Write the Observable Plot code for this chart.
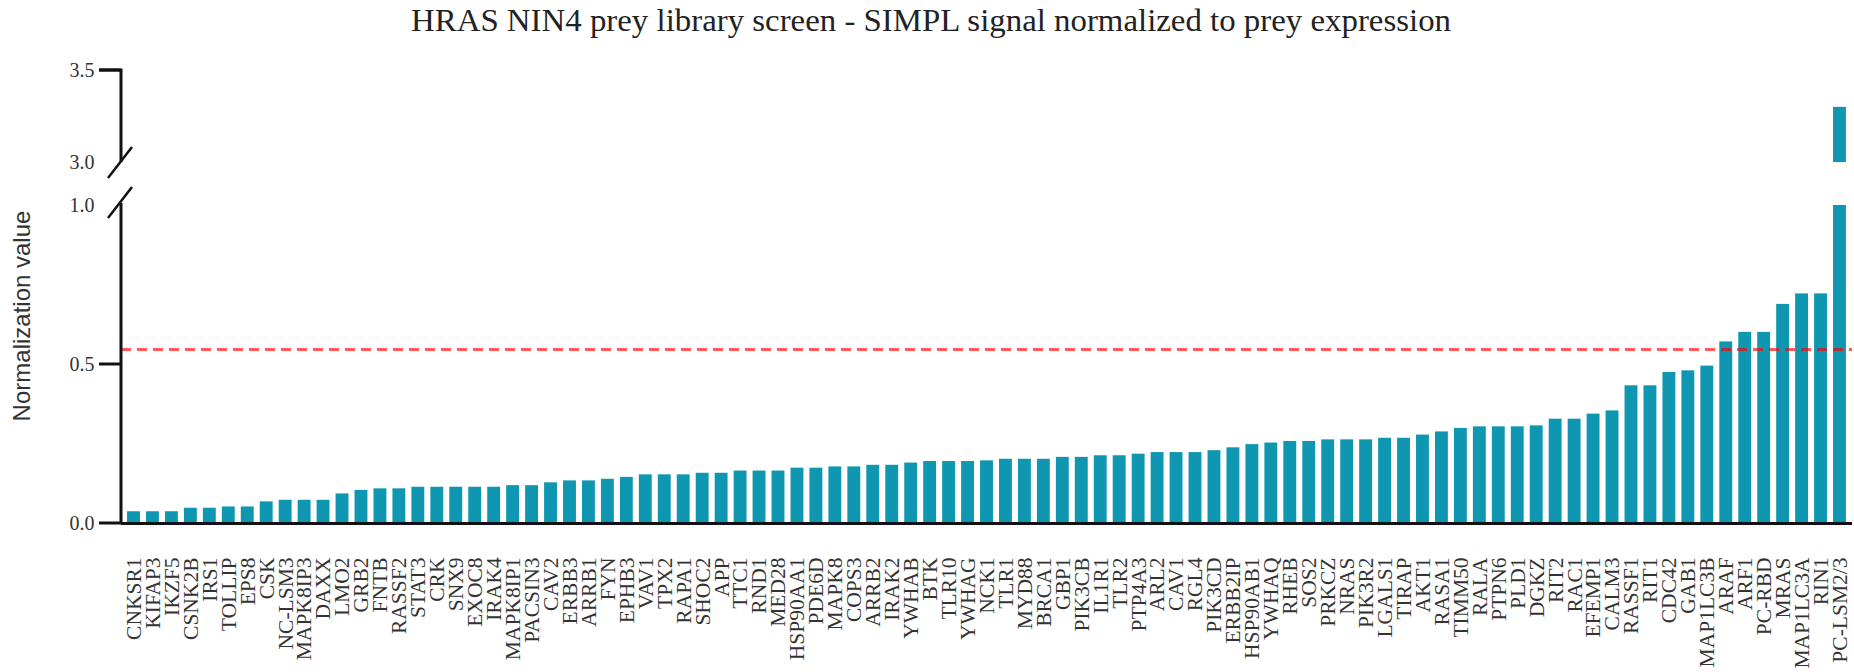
<!DOCTYPE html>
<html><head><meta charset="utf-8">
<script src="https://cdn.jsdelivr.net/npm/d3@7"></script>
<script src="https://cdn.jsdelivr.net/npm/@observablehq/plot@0.6"></script>
<style>html,body{margin:0;padding:0;background:#fff} #chart svg{display:block}</style>
</head><body><div id="chart"></div>
<script>
// ---- data ----
const genes = ["CNKSR1","KIFAP3","IKZF5","CSNK2B","IRS1","TOLLIP","EPS8","CSK","NC-LSM3","MAPK8IP3","DAXX","LMO2","GRB2","FNTB","RASSF2","STAT3","CRK","SNX9","EXOC8","IRAK4","MAPK8IP1","PACSIN3","CAV2","ERBB3","ARRB1","FYN","EPHB3","VAV1","TPX2","RAPA1","SHOC2","APP","TTC1","RND1","MED28","HSP90AA1","PDE6D","MAPK8","COPS3","ARRB2","IRAK2","YWHAB","BTK","TLR10","YWHAG","NCK1","TLR1","MYD88","BRCA1","GBP1","PIK3CB","IL1R1","TLR2","PTP4A3","ARL2","CAV1","RGL4","PIK3CD","ERBB2IP","HSP90AB1","YWHAQ","RHEB","SOS2","PRKCZ","NRAS","PIK3R2","LGALS1","TIRAP","AKT1","RASA1","TIMM50","RALA","PTPN6","PLD1","DGKZ","RIT2","RAC1","EFEMP1","CALM3","RASSF1","RIT1","CDC42","GAB1","MAP1LC3B","ARAF","ARF1","PC-RBD","MRAS","MAP1LC3A","RIN1","PC-LSM2/3"];
const values = [0.037,0.037,0.037,0.048,0.048,0.052,0.052,0.068,0.073,0.073,0.073,0.093,0.104,0.109,0.109,0.114,0.114,0.114,0.114,0.114,0.119,0.119,0.128,0.134,0.134,0.139,0.145,0.153,0.153,0.153,0.158,0.158,0.165,0.165,0.165,0.174,0.174,0.178,0.178,0.183,0.183,0.190,0.195,0.195,0.195,0.197,0.202,0.202,0.202,0.208,0.208,0.213,0.213,0.218,0.223,0.223,0.223,0.229,0.238,0.248,0.253,0.258,0.258,0.263,0.263,0.263,0.268,0.268,0.278,0.288,0.299,0.304,0.304,0.304,0.307,0.328,0.328,0.344,0.354,0.433,0.433,0.475,0.480,0.495,0.571,0.601,0.601,0.689,0.722,0.722,3.3];
const threshold = 0.547;
const yTickValues = [0, 0.5, 1.0, 3.0, 3.5];
const yTickLabels = ["0.0", "0.5", "1.0", "3.0", "3.5"];
const yTickMarks = [0, 0.5, 3.5];
const breakLow = 1.0, breakHigh = 3.0, yMax = 3.5;
const title = "HRAS NIN4 prey library screen - SIMPL signal normalized to prey expression";
const yLabel = "Normalization value";

// ---- broken axis mapping ----
const upperStart = 1.135, upperScale = 0.579;
const brk = v => v <= breakLow ? v : upperStart + (v - breakHigh) * upperScale;

const segs = [];
genes.forEach((g, i) => {
  const v = values[i];
  if (v <= breakLow) segs.push({gene: g, lo: 0, hi: v});
  else { segs.push({gene: g, lo: 0, hi: breakLow}); segs.push({gene: g, lo: breakHigh, hi: v}); }
});

const W = 1854, H = 672, ML = 121, MR = 2, MT = 70, MB = 149;
const serif = "'Liberation Serif','Times New Roman',serif";

function axisLines(index, scales, values, dims) {
  const x0 = dims.marginLeft;
  const y = v => scales.y(brk(v));
  const g = d3.create("svg:g").attr("stroke", "#111").attr("fill", "none");
  g.append("path").attr("stroke-width", 3)
    .attr("d", `M${x0 - 22},${y(yMax)}H${x0}V${y(breakHigh)}`);
  g.append("path").attr("stroke-width", 3)
    .attr("d", `M${x0},${y(breakLow) - 2}V${y(0)}`);
  for (const t of yTickMarks) {
    g.append("path").attr("stroke-width", 3).attr("d", `M${x0 - 22},${y(t)}H${x0}`);
  }
  g.append("path").attr("stroke-width", 2.5)
    .attr("d", `M${x0 - 13},${y(breakHigh) + 16}L${x0 + 11},${y(breakHigh) - 15}`);
  g.append("path").attr("stroke-width", 2.5)
    .attr("d", `M${x0 - 13},${y(breakLow) + 13}L${x0 + 11},${y(breakLow) - 18}`);
  return g.node();
}

const chart = Plot.plot({
  width: W, height: H,
  marginLeft: ML, marginRight: MR, marginTop: MT, marginBottom: MB,
  style: {fontFamily: serif, background: "#fff"},
  x: {domain: genes, padding: 0.32, label: null},
  y: {domain: [0, brk(yMax)], axis: null},
  marks: [
    Plot.barY(segs, {x: "gene", y1: d => brk(d.lo), y2: d => brk(d.hi), fill: "#0f97b1"}),
    Plot.ruleY([threshold], {y: d => brk(d), stroke: "#ff0000", strokeOpacity: 0.65, strokeWidth: 3, strokeDasharray: "10,6"}),
    Plot.ruleY([0], {stroke: "#111", strokeWidth: 3}),
    axisLines,
    Plot.axisX({tickRotate: -90, tickSize: 0, tickPadding: 34, fontSize: 21.5, fontFamily: serif, fill: "#333", label: null}),
    Plot.text(yTickValues, {y: d => brk(d), text: (d, i) => yTickLabels[i], frameAnchor: "left", textAnchor: "end", dx: -27, fontSize: 20, fontFamily: serif, fill: "#333"}),
    Plot.text([yLabel], {frameAnchor: "left", textAnchor: "middle", rotate: -90, dx: -99, dy: 19, fontSize: 24, fontFamily: "'Liberation Sans',Arial,sans-serif", fill: "#333"}),
    Plot.text([title], {frameAnchor: "top", textAnchor: "middle", dx: -56, dy: -62, fontSize: 31, fontFamily: serif, fill: "#222"})
  ]
});
document.getElementById("chart").appendChild(chart);
d3.select(chart).selectAll("text").filter(function() { return this.textContent === title; })
  .attr("textLength", 1040).attr("lengthAdjust", "spacingAndGlyphs");
</script>
</body></html>
